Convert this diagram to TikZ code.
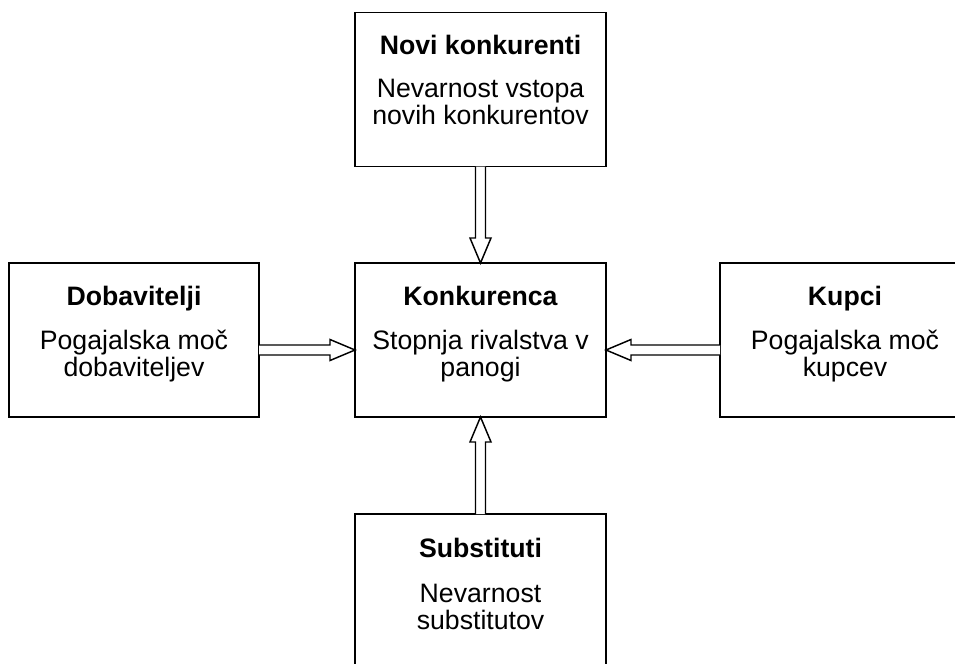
\documentclass[tikz,border=0pt]{standalone}
\usepackage{fontspec}
\setmainfont{Liberation Sans}
\usetikzlibrary{calc}
\begin{document}
\begin{tikzpicture}[x=0.75pt,y=-0.75pt,
  box/.style={draw, line width=1.1pt, inner sep=0pt, outer sep=0pt, minimum width=188.25pt, minimum height=115.5pt},
  ttl/.style={anchor=base, inner sep=0pt, font=\fontsize{20}{20}\selectfont\bfseries},
  txt/.style={anchor=base, inner sep=0pt, font=\fontsize{20}{20}\selectfont},
  arr/.style={draw, fill=white, line width=1.1pt, line join=miter}]
\useasboundingbox (0,0) rectangle (955,663);
\clip (0,0) rectangle (955,663);
\fill[white] (0,0) rectangle (955,663);
% boxes
\node[box] (top) at (480.5,89.5) {};
\node[box] (center) at (480.5,340) {};
\node[box, minimum width=187.5pt] (left) at (134,340) {};
\node[box, minimum width=187.5pt] (right) at (845,340) {};
\node[box] (bottom) at (480.5,591) {};
% texts
\node[ttl] (topT) at (480.5,55) {Novi konkurenti};
\node[txt] (topA) at (480.5,98) {Nevarnost vstopa};
\node[txt] (topB) at (480.5,125) {novih konkurentov};
\node[ttl] (cenT) at (480.5,305) {Konkurenca};
\node[txt] (cenA) at (480.5,349) {Stopnja rivalstva v};
\node[txt] (cenB) at (480.5,376) {panogi};
\node[ttl] (lefT) at (134,305) {Dobavitelji};
\node[txt] (lefA) at (134,349) {Pogajalska moč};
\node[txt] (lefB) at (134,376) {dobaviteljev};
\node[ttl] (rigT) at (845,305) {Kupci};
\node[txt] (rigA) at (845,349) {Pogajalska moč};
\node[txt] (rigB) at (845,376) {kupcev};
\node[ttl] (botT) at (480.5,557) {Substituti};
\node[txt] (botA) at (480.5,602) {Nevarnost};
\node[txt] (botB) at (480.5,629) {substitutov};
% arrows
\draw[arr] ($(top.south)+(-5,0)$) -- ($(center.north)+(-5,-25)$) -- ($(center.north)+(-10.5,-25)$) -- (center.north) -- ($(center.north)+(10.5,-25)$) -- ($(center.north)+(5,-25)$) -- ($(top.south)+(5,0)$);
\draw[arr] ($(bottom.north)+(-5,0)$) -- ($(center.south)+(-5,25)$) -- ($(center.south)+(-10.5,25)$) -- (center.south) -- ($(center.south)+(10.5,25)$) -- ($(center.south)+(5,25)$) -- ($(bottom.north)+(5,0)$);
\draw[arr] ($(left.east)+(0,5)$) -- ($(center.west)+(-25,5)$) -- ($(center.west)+(-25,-0.5)$) -- ($(center.west)+(0,10)$) -- ($(center.west)+(-25,20.5)$) -- ($(center.west)+(-25,15)$) -- ($(left.east)+(0,15)$);
\draw[arr] ($(right.west)+(0,5)$) -- ($(center.east)+(25,5)$) -- ($(center.east)+(25,-0.5)$) -- ($(center.east)+(0,10)$) -- ($(center.east)+(25,20.5)$) -- ($(center.east)+(25,15)$) -- ($(right.west)+(0,15)$);
\end{tikzpicture}
\end{document}
